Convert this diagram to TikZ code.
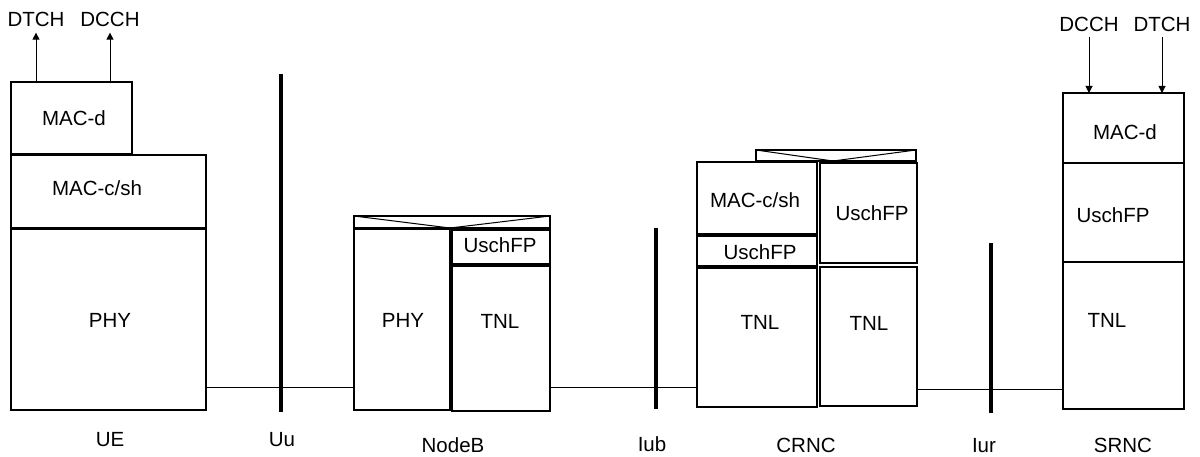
\documentclass[tikz,border=0pt]{standalone}
\usepackage{fontspec}
\setmainfont{Liberation Sans}
\usetikzlibrary{arrows.meta}
\newcommand\bx[5]{\node[box,anchor=north west,minimum width={(#4-#2)*1pt},minimum height={(#5-#3)*1pt}] (#1) at (#2,#3) {};}
\begin{document}
\begin{tikzpicture}[x=1pt,y=-1pt,
  box/.style={draw=black,line width=1.2pt,inner sep=0pt,outer sep=0pt},
  txt/.style={inner sep=0pt,outer sep=0pt,text depth=0pt,font=\fontsize{20.5}{24}\selectfont},
  link/.style={draw=black,line width=1pt},
  bar/.style={draw=black,line width=4.5pt},
  arr/.style={draw=black,line width=1pt,-{Triangle[length=7pt,width=7pt]}}]
\useasboundingbox (0,0) rectangle (1200,457);
% UE
\bx{uemacd}{11}{82}{132}{154}
\bx{uemacsh}{11}{155}{206}{228}
\bx{uephy}{11}{229}{206}{410}
\node[txt] (tuemacd) at (74,118) {MAC-d};
\node[txt] (tuemacsh) at (97,188) {MAC-c/sh};
\node[txt] (tuephy) at (110,320) {PHY};
\node[txt] (uedtch) at (36,19.5) {DTCH};
\node[txt] (uedcch) at (110,19.5) {DCCH};
\draw[arr] (uemacd.north -| uedtch) -- ([yshift=-6pt]uedtch.south);
\draw[arr] (uemacd.north -| uedcch) -- ([yshift=-6pt]uedcch.south);
% NodeB
\bx{nbhdr}{354}{216}{550}{228}
\draw[line width=1pt] (nbhdr.north west) -- (450,228) -- (nbhdr.north east);
\bx{nbphy}{354}{229}{450}{410}
\bx{nbusch}{452}{230}{550}{264}
\bx{nbtnl}{452}{266}{550}{411}
\node[txt] (tnbphy) at (403,320) {PHY};
\node[txt] (tnbusch) at (500,245) {UschFP};
\node[txt] (tnbtnl) at (500,321) {TNL};
% CRNC
\bx{crhdr}{756}{150}{916}{161}
\draw[line width=1pt] (crhdr.north west) -- (833,161) -- (crhdr.north east);
\bx{crmac}{697}{162}{817}{234}
\bx{crusch1}{697}{236}{817}{266}
\bx{crtnl1}{697}{268}{817}{407}
\bx{crusch2}{820}{163}{917}{263}
\bx{crtnl2}{820}{267}{917}{406}
\node[txt] (tcrmac) at (755,200) {MAC-c/sh};
\node[txt] (tcrusch1) at (760,252) {UschFP};
\node[txt] (tcrusch2) at (872,213) {UschFP};
\node[txt] (tcrtnl1) at (760,322) {TNL};
\node[txt] (tcrtnl2) at (869,323) {TNL};
% SRNC
\bx{smacd}{1063}{93}{1184}{163}
\bx{susch}{1063}{163}{1184}{262}
\bx{stnl}{1063}{262}{1184}{409}
\node[txt] (tsmacd) at (1125,132) {MAC-d};
\node[txt] (tsusch) at (1113,215) {UschFP};
\node[txt] (tstnl) at (1107,320) {TNL};
\node[txt] (sdcch) at (1089,24) {DCCH};
\node[txt] (sdtch) at (1162,24) {DTCH};
\draw[arr] ([yshift=-5.6pt]sdcch.south) -- (smacd.north -| sdcch);
\draw[arr] ([yshift=-5.6pt]sdtch.south) -- (smacd.north -| sdtch);
% links
\draw[link] ([yshift=23pt]uephy.south east) coordinate (l1) -- (l1 -| nbphy.west);
\draw[link] ([yshift=24pt]nbtnl.south east) coordinate (l2) -- (l2 -| crtnl1.west);
\draw[link] ([yshift=17pt]crtnl2.south east) coordinate (l3) -- (l3 -| stnl.west);
% interface bars
\draw[bar] (281,74) -- (281,412);
\draw[bar] (656,228) -- (656,409);
\draw[bar] (991,243) -- (991,413);
% bottom labels
\node[txt] (lue) at (110,439) {UE};
\node[txt] (luu) at (282,439) {Uu};
\node[txt] (lnb) at (453,445) {NodeB};
\node[txt] (liub) at (652,444) {Iub};
\node[txt] (lcr) at (806,445) {CRNC};
\node[txt] (liur) at (984,445) {Iur};
\node[txt] (lsr) at (1123,445) {SRNC};
\end{tikzpicture}
\end{document}
